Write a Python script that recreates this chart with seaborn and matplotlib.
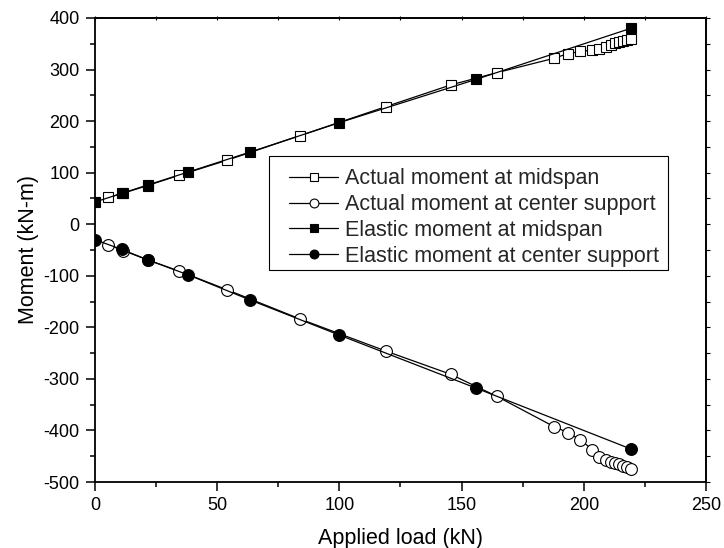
import matplotlib
matplotlib.use("Agg")
import matplotlib.pyplot as plt
from matplotlib.patches import Rectangle
from matplotlib.ticker import MultipleLocator, NullFormatter
import seaborn as sns

# Applied load steps (kN)
load_actual = [5.5, 11.5, 21.5, 34.5, 54, 84, 119, 145.5, 164.5, 188, 193.5,
               198.5, 203.5, 206.3, 209, 211.1, 212.8, 214.4, 215.9, 217.8, 219.3]
load_elastic = [0, 11, 21.5, 38, 63.5, 100, 156, 219.3]

# Moments (kN-m)
actual_midspan = [52, 60, 75, 95, 124, 172, 228, 270, 294, 322, 331,
                  335, 337.5, 339.5, 344, 348.5, 351.5, 353.5, 355.5, 358, 360]
actual_support = [-40, -51, -69, -91, -127, -184, -246, -291, -334, -393, -404,
                  -418, -437, -452, -458, -461, -463, -465.5, -468.5, -471, -474]
elastic_midspan = [43, 60, 76, 101, 140, 197, 281, 380]
elastic_support = [-30, -49, -69, -98, -147, -215, -318, -436]

labels = ["Actual moment at midspan", "Actual moment at center support",
          "Elastic moment at midspan", "Elastic moment at center support"]

sns.set_theme(style="white")
plt.rcParams["font.family"] = ["Liberation Sans", "DejaVu Sans"]
plt.rcParams["axes.unicode_minus"] = False

fig = plt.figure(figsize=(7.24, 5.48), dpi=100)
ax = fig.add_axes([0.1312, 0.1204, 0.8439, 0.8468])

line_kw = dict(color="black", linewidth=0.9, sort=False, estimator=None,
               markeredgecolor="black", markeredgewidth=0.8, ax=ax)

sns.lineplot(x=load_actual, y=actual_midspan, marker="s", markersize=7.5,
             markerfacecolor="white", label=labels[0], **line_kw)
sns.lineplot(x=load_actual, y=actual_support, marker="o", markersize=8.5,
             markerfacecolor="white", label=labels[1], **line_kw)
sns.lineplot(x=load_elastic, y=elastic_midspan, marker="s", markersize=7.5,
             markerfacecolor="black", label=labels[2], **line_kw)
sns.lineplot(x=load_elastic, y=elastic_support, marker="o", markersize=8.5,
             markerfacecolor="black", label=labels[3], **line_kw)

ax.set_xlim(0, 250)
ax.set_ylim(-500, 400)
ax.xaxis.set_major_locator(MultipleLocator(50))
ax.xaxis.set_minor_locator(MultipleLocator(25))
ax.yaxis.set_major_locator(MultipleLocator(100))
ax.yaxis.set_minor_locator(MultipleLocator(50))

for s in ax.spines.values():
    s.set_color("black")
    s.set_linewidth(1.3)

ax.tick_params(axis="both", which="major", direction="out", length=6.5,
               width=1.1, color="black", labelsize=13, pad=4.5,
               labelcolor="black", bottom=True, left=True, top=False, right=False)
ax.tick_params(axis="both", which="minor", direction="out", length=3.5,
               width=1.1, color="black", bottom=True, left=True,
               top=False, right=False)

# short ticks on the top and right frame edges
top = ax.secondary_xaxis("top")
top.xaxis.set_major_locator(MultipleLocator(25))
top.xaxis.set_major_formatter(NullFormatter())
top.tick_params(direction="inout", length=3, width=0.8, color="black")
right = ax.secondary_yaxis("right")
right.yaxis.set_major_locator(MultipleLocator(50))
right.yaxis.set_major_formatter(NullFormatter())
right.tick_params(direction="out", length=3, width=0.8, color="black")

ax.set_xlabel("Applied load (kN)", fontsize=15.5, labelpad=10, color="black")
ax.set_ylabel("Moment (kN-m)", fontsize=15.5, labelpad=3, color="black")

# legend box with a wide left margin
ax.add_patch(Rectangle((0.2848, 0.4569), 0.6530, 0.2457, transform=ax.transAxes,
                       facecolor="white", edgecolor="black", linewidth=0.8,
                       zorder=4))
leg = ax.legend(loc="center left", bbox_to_anchor=(0.3175, 0.570),
                fontsize=15.5, frameon=False, handlelength=2.3,
                handletextpad=0.3, labelspacing=0.22, borderpad=0,
                borderaxespad=0, markerscale=0.75)
leg.set_zorder(5)

fig.savefig("out.png", dpi=100)
